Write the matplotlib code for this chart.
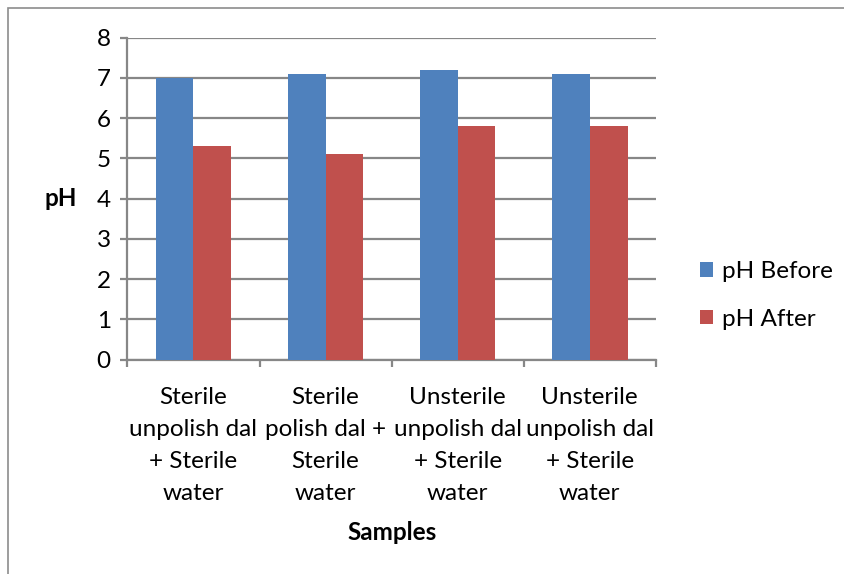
import numpy as np
import matplotlib
matplotlib.use('Agg')
import matplotlib.pyplot as plt
from matplotlib.patches import Rectangle

plt.rcParams['font.family'] = ['Lato', 'DejaVu Sans']

samples = ['Sterile\nunpolish dal\n+ Sterile\nwater',
           'Sterile\npolish dal +\nSterile\nwater',
           'Unsterile\nunpolish dal\n+ Sterile\nwater',
           'Unsterile\nunpolish dal\n+ Sterile\nwater']
ph_before = [7.0, 7.1, 7.2, 7.1]
ph_after = [5.3, 5.1, 5.8, 5.8]

blue = '#4F81BD'
red = '#C0504D'
grey = '#878787'
fs = 17.5

fig = plt.figure(figsize=(8.44, 5.74), dpi=100)
ax = fig.add_axes([0.151, 0.3733, 0.626, 0.561])

# chart border
fig.patches.append(Rectangle((8 / 844, -0.1), 1.2, 1 - 8 / 574 + 0.1,
                             transform=fig.transFigure, fill=False,
                             edgecolor='#8c8c8c', linewidth=1.2))

x = np.arange(len(samples))
w = 0.286
ax.bar(x - w / 2, ph_before, w, color=blue, label='pH Before', zorder=3)
ax.bar(x + w / 2, ph_after, w, color=red, label='pH After', zorder=3)

ax.set_xlim(-0.5, 3.5)
ax.set_ylim(0, 8)
ax.set_yticks(range(0, 9))
ax.yaxis.grid(True, color=grey, linewidth=1.6, zorder=0)
ax.tick_params(axis='y', length=5, width=1.6, color=grey, labelsize=fs, pad=7)

# boundaries ticks on x, labels at centers
ax.set_xticks(np.arange(-0.5, 4.0, 1.0))
ax.set_xticklabels([])
ax.tick_params(axis='x', which='major', length=5, width=1.6, color=grey)
ax.set_xticks(x, minor=True)
ax.set_xticklabels(samples, minor=True, fontsize=fs, linespacing=1.66)
ax.tick_params(axis='x', which='minor', length=0, pad=19.5)

for s in ['top', 'right']:
    ax.spines[s].set_visible(False)
for s in ['left', 'bottom']:
    ax.spines[s].set_color(grey)
    ax.spines[s].set_linewidth(1.6)

ax.set_ylabel('pH', fontsize=fs, fontweight='bold', rotation=0, ha='center', va='center')
ax.yaxis.set_label_coords(-0.126, 0.5)
ax.set_xlabel('Samples', fontsize=fs, fontweight='bold', va='center')
ax.xaxis.set_label_coords(0.5, -0.538)

leg = ax.legend(loc='center left', bbox_to_anchor=(1.065, 0.2), frameon=False,
                fontsize=fs, handlelength=0.55, handleheight=0.55,
                handletextpad=0.35, labelspacing=1.1, borderaxespad=0)

fig.savefig('out.png', dpi=100)
